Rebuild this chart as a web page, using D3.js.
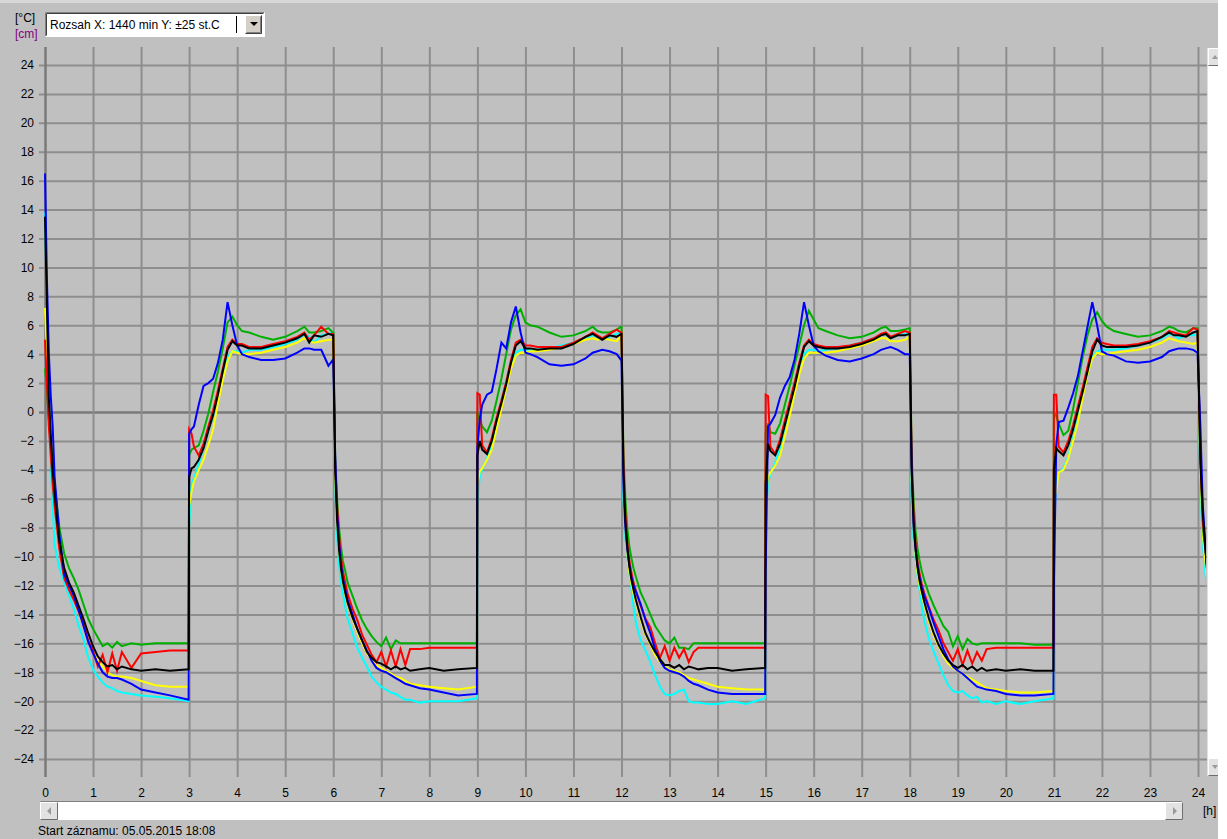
<!DOCTYPE html>
<html>
<head>
<meta charset="utf-8">
<script src="https://cdn.jsdelivr.net/npm/d3@7/dist/d3.min.js"></script>
<style>
  body { margin: 0; background: #fff; }
  svg text { font-family: "Liberation Sans", Arial, sans-serif; font-size: 12px; }
</style>
</head>
<body>
<svg id="chart" width="1227" height="839"></svg>
<script>
// time of each sample [h]
const hours = [
  0, 0.04, 0.08, 0.12, 0.16, 0.2, 0.25, 0.3, 0.4, 0.5, 0.6, 0.7, 0.8, 0.9, 1.0, 1.1, 1.2, 1.3, 1.4, 1.5, 1.6, 1.8, 2.0, 2.3, 2.6, 2.99,
  3.0, 3.05, 3.1, 3.2, 3.3, 3.4, 3.5, 3.6, 3.7, 3.8, 3.9, 4.0, 4.1, 4.25, 4.5, 4.75, 5.0, 5.25, 5.4, 5.5, 5.6, 5.75, 5.9, 5.99,
  6.0, 6.04, 6.08, 6.12, 6.16, 6.2, 6.25, 6.3, 6.4, 6.5, 6.6, 6.7, 6.8, 6.9, 7.0, 7.1, 7.2, 7.3, 7.4, 7.5, 7.6, 7.8, 8.0, 8.3, 8.6, 8.99,
  9.0, 9.05, 9.1, 9.2, 9.3, 9.4, 9.5, 9.6, 9.7, 9.8, 9.9, 10.0, 10.1, 10.25, 10.5, 10.75, 11.0, 11.25, 11.4, 11.5, 11.6, 11.75, 11.9, 11.99,
  12.0, 12.04, 12.08, 12.12, 12.16, 12.2, 12.25, 12.3, 12.4, 12.5, 12.6, 12.7, 12.8, 12.9, 13.0, 13.1, 13.2, 13.3, 13.4, 13.5, 13.6, 13.8, 14.0, 14.3, 14.6, 14.99,
  15.0, 15.05, 15.1, 15.2, 15.3, 15.4, 15.5, 15.6, 15.7, 15.8, 15.9, 16.0, 16.1, 16.25, 16.5, 16.75, 17.0, 17.25, 17.4, 17.5, 17.6, 17.75, 17.9, 17.99,
  18.0, 18.04, 18.08, 18.12, 18.16, 18.2, 18.25, 18.3, 18.4, 18.5, 18.6, 18.7, 18.8, 18.9, 19.0, 19.1, 19.2, 19.3, 19.4, 19.5, 19.6, 19.8, 20.0, 20.3, 20.6, 20.99,
  21.0, 21.05, 21.1, 21.2, 21.3, 21.4, 21.5, 21.6, 21.7, 21.8, 21.9, 22.0, 22.1, 22.25, 22.5, 22.75, 23.0, 23.25, 23.4, 23.5, 23.6, 23.75, 23.9, 23.99,
  24.05, 24.1, 24.2
]

// temperatures [°C]
const cyanVals = [
  13.8, 7.0, 1.0, -3.5, -6.5, -9.2, -10.0, -10.8, -11.8, -12.7, -13.6, -14.8, -15.7, -17.0, -17.8, -18.3, -18.7, -19.0, -19.1, -19.3, -19.4, -19.5, -19.6, -19.7, -19.8, -20.0,
  -8.0, -5.0, -4.6, -3.6, -2.5, -1.3, -0.3, 1.3, 2.8, 3.8, 4.2, 4.2, 4.1, 4.3, 4.3, 4.5, 4.7, 5.0, 5.4, 5.2, 4.8, 5.3, 5.4, 5.5,
  5.5, -5, -8.5, -10.5, -11.8, -12.5, -13.5, -14.3, -15.3, -16.3, -17.0, -17.6, -18.3, -18.7, -19.0, -19.2, -19.4, -19.5, -19.7, -19.9, -19.9, -20.1, -20.0, -20.0, -20.0, -19.8,
  -6.5, -4.4, -4.0, -3.2, -2.3, -0.8, 0.8, 2.2, 3.4, 4.1, 4.3, 4.3, 4.3, 4.3, 4.4, 4.6, 4.8, 5.1, 5.3, 5.2, 5.0, 5.2, 5.4, 5.5,
  5.5, -6, -8.6, -9.8, -11, -12, -13.5, -14.6, -15.8, -16.5, -17.3, -18.2, -19.0, -19.5, -19.6, -19.5, -19.3, -19.2, -20.0, -20.1, -20.1, -20.2, -20.2, -20.0, -20.2, -19.8,
  -7.5, -4.8, -4.3, -3.5, -2.5, -1.0, 0.5, 2.0, 3.2, 4.0, 4.3, 4.3, 4.2, 4.3, 4.4, 4.6, 4.8, 5.1, 5.3, 5.4, 5.1, 5.3, 5.4, 5.5,
  5.5, -6, -8.8, -10, -11.2, -12.2, -13.4, -14.4, -15.7, -16.6, -17.4, -18.2, -18.9, -19.3, -19.4, -19.3, -19.6, -19.8, -19.7, -20.1, -20.0, -20.2, -20.0, -20.2, -20.0, -19.8,
  -7.8, -4.8, -4.2, -3.9, -3.1, -1.8, -0.5, 1.2, 2.6, 3.8, 4.2, 4.3, 4.3, 4.3, 4.4, 4.6, 4.8, 5.1, 5.4, 5.3, 5.1, 5.3, 5.3, 5.4,
  -5.0, -9.0, -13.0
]
const yellowVals = [
  7.2, 4.0, 0.0, -2.5, -4.5, -6.0, -7.8, -9.2, -11.2, -12.0, -12.8, -13.8, -14.8, -15.8, -16.6, -17.2, -17.6, -18.0, -18.2, -18.3, -18.3, -18.4, -18.6, -18.9, -19.0, -19.0,
  -6.5, -5.5, -4.8, -4.0, -3.3, -2.3, -1.2, 0.6, 2.2, 3.5, 4.2, 4.1, 4.0, 4.0, 4.1, 4.3, 4.5, 4.8, 5.1, 4.9, 4.8, 4.9, 5.0, 5.0,
  5.0, -4.5, -7.5, -9.5, -10.8, -11.8, -12.6, -13.3, -14.3, -15.2, -16.0, -16.7, -17.1, -17.5, -17.7, -17.9, -18.1, -18.3, -18.4, -18.6, -18.8, -18.9, -19.0, -19.1, -19.2, -19.0,
  -5.0, -4.1, -3.9, -3.3, -2.6, -1.2, 0.2, 1.6, 3.0, 3.9, 4.1, 4.1, 4.2, 4.2, 4.3, 4.5, 4.7, 5.0, 5.1, 5.0, 5.1, 5.0, 4.9, 5.3,
  5.3, -4.5, -8, -9.7, -11, -11.8, -12.6, -13.2, -14.4, -15.4, -16.1, -16.8, -17.3, -17.6, -17.8, -17.9, -18.0, -18.2, -18.4, -18.5, -18.6, -18.8, -19.0, -19.1, -19.2, -19.2,
  -6.0, -4.5, -4.2, -3.7, -3.0, -1.7, -0.3, 1.2, 2.6, 3.7, 4.1, 4.1, 4.1, 4.1, 4.2, 4.4, 4.6, 4.9, 5.1, 5.1, 4.9, 4.9, 5.0, 5.2,
  5.2, -4.5, -8, -9.8, -11.1, -11.9, -12.7, -13.3, -14.5, -15.5, -16.2, -16.9, -17.4, -17.7, -17.9, -18.1, -18.3, -18.5, -18.7, -18.9, -19.1, -19.2, -19.3, -19.4, -19.4, -19.3,
  -6.0, -5.5, -4.2, -4.0, -3.2, -2.0, -0.7, 1.0, 2.6, 3.7, 4.1, 4.0, 4.0, 4.1, 4.2, 4.3, 4.5, 4.8, 5.1, 5.0, 4.9, 4.8, 4.7, 4.8,
  -4.0, -8.5, -12.0
]
const greenVals = [
  3.0, 1.5, -0.5, -2.0, -3.5, -5.0, -6.5, -8.0, -9.8, -10.8, -11.5, -12.3, -13.3, -14.3, -15.0, -15.6, -16.2, -16.0, -16.3, -15.9, -16.2, -16.0, -16.1, -16.0, -16.0, -16.0,
  -3.0, -2.6, -2.5, -2.3, -1.3, -0.1, 1.4, 2.8, 4.4, 6.2, 6.6, 6.0, 5.6, 5.5, 5.2, 5.0, 5.2, 5.6, 5.9, 5.5, 5.5, 5.6, 5.8, 5.5,
  5.5, -3, -6, -8, -9.3, -10.3, -11, -11.8, -12.7, -13.6, -14.4, -15.0, -15.5, -15.9, -16.2, -15.6, -16.4, -15.8, -16.0, -16.0, -16.0, -16.0, -16.0, -16.0, -16.0, -16.0,
  0.0, -0.5, -1.0, -1.4, -0.6, 0.8, 2.3, 4.0, 5.7, 6.7, 7.1, 6.2, 6.0, 5.9, 5.5, 5.2, 5.3, 5.6, 5.9, 5.6, 5.5, 5.5, 5.7, 5.9,
  5.9, -3, -6, -8, -9.2, -10, -10.8, -11.4, -12.5, -13.2, -14.0, -14.8, -15.3, -15.8, -16.0, -15.6, -16.3, -16.3, -16.4, -16.0, -16.0, -16.0, -16.0, -16.0, -16.0, -16.0,
  -1.5, -0.8, -1.4, -1.5, -0.8, 0.5, 1.8, 3.2, 4.6, 6.0, 7.0, 6.4, 5.8, 5.6, 5.3, 5.1, 5.2, 5.5, 5.8, 5.9, 5.6, 5.6, 5.7, 5.8,
  5.8, -3, -6.2, -8.2, -9.4, -10.2, -11.0, -11.6, -12.6, -13.4, -14.1, -14.8, -15.2, -16.2, -15.5, -16.4, -15.7, -16.0, -16.1, -16.0, -16.0, -16.0, -16.0, -16.0, -16.1, -16.1,
  0.0, -0.3, -0.8, -1.6, -1.3, 0.2, 2.0, 3.8, 5.3, 6.4, 6.9, 6.3, 5.9, 5.6, 5.4, 5.2, 5.3, 5.6, 5.9, 5.8, 5.6, 5.5, 5.8, 5.8,
  -3.0, -8.0, -11.0
]
const redVals = [
  5.0, 2.0, -1.0, -3.0, -5.0, -6.5, -8.0, -9.5, -11.5, -12.3, -13.0, -13.8, -14.6, -15.8, -16.5, -17.6, -16.8, -18.0, -16.7, -17.9, -16.6, -17.7, -16.7, -16.6, -16.5, -16.5,
  -1.2, -1.5, -2.4, -3.0, -2.2, -1.0, 0.1, 1.5, 3.0, 4.5, 5.0, 4.7, 4.7, 4.5, 4.5, 4.7, 4.9, 5.2, 5.5, 5.0, 5.3, 5.9, 5.4, 5.4,
  5.4, -3.5, -6.5, -8.5, -10, -11, -11.8, -12.6, -13.6, -14.4, -15.4, -16.1, -16.8, -17.3, -16.6, -17.6, -16.5, -17.6, -16.4, -17.5, -16.4, -16.4, -16.3, -16.3, -16.3, -16.3,
  1.3, 1.2, -2.3, -2.8, -1.8, -0.4, 0.8, 2.1, 3.6, 4.8, 5.0, 4.6, 4.6, 4.5, 4.5, 4.5, 4.8, 5.2, 5.5, 5.3, 5.1, 5.4, 5.7, 5.5,
  5.5, -3.5, -7, -9, -10.2, -11, -11.8, -12.4, -13.4, -14.3, -14.9, -16.0, -17.0, -16.2, -17.2, -16.3, -17.0, -16.4, -17.3, -16.6, -16.3, -16.3, -16.3, -16.3, -16.3, -16.3,
  1.2, 1.1, -2.4, -2.9, -1.9, -0.6, 0.7, 2.0, 3.4, 4.6, 5.0, 4.7, 4.6, 4.5, 4.5, 4.6, 4.8, 5.1, 5.4, 5.5, 5.2, 5.4, 5.6, 5.5,
  5.5, -3.5, -7, -9, -10.3, -11.1, -11.9, -12.5, -13.5, -14.4, -15.1, -16.0, -16.6, -17.2, -16.4, -17.5, -16.5, -17.4, -16.6, -17.2, -16.4, -16.3, -16.3, -16.3, -16.3, -16.3,
  1.2, 1.2, -2.4, -2.8, -2.0, -0.9, 0.4, 1.7, 3.1, 4.5, 5.1, 4.8, 4.7, 4.6, 4.6, 4.7, 4.9, 5.2, 5.6, 5.5, 5.4, 5.3, 5.8, 5.7,
  -3.0, -7.5, -11.0
]
const blueVals = [
  16.5, 9.2, 4.1, 1.1, -1.0, -4.5, -6.5, -8.5, -11.2, -12.0, -12.7, -13.7, -14.8, -15.9, -16.7, -17.4, -18.0, -18.3, -18.4, -18.4, -18.5, -18.8, -19.2, -19.4, -19.6, -19.9,
  -1.5, -1.2, -1.0, 0.5, 1.8, 2.0, 2.3, 3.4, 5.0, 7.6, 6.0, 4.6, 4.0, 3.8, 3.6, 3.6, 3.7, 4.1, 4.4, 4.4, 4.3, 4.3, 3.2, 3.6,
  3.6, -3, -7, -9, -10.5, -11.5, -12.3, -13, -14, -15, -15.8, -16.5, -17.2, -17.7, -17.9, -18.0, -18.2, -18.4, -18.6, -18.8, -18.9, -19.1, -19.2, -19.4, -19.6, -19.5,
  -2.5, -0.5, 0.5, 1.2, 1.4, 3.0, 4.8, 4.4, 6.2, 7.3, 5.5, 4.1, 4.0, 3.8, 3.3, 3.2, 3.3, 3.7, 4.1, 4.2, 4.3, 4.2, 4.0, 3.6,
  3.6, -5, -8, -9.5, -10.5, -11.3, -12.0, -12.4, -13.3, -14.4, -15.3, -16.4, -17.2, -17.7, -17.9, -18.0, -18.1, -18.3, -18.6, -18.8, -18.9, -19.2, -19.4, -19.5, -19.5, -19.5,
  -11, -1.0, -0.8, -0.2, 1.0, 1.8, 2.4, 3.6, 5.4, 7.6, 6.0, 4.6, 4.2, 3.9, 3.6, 3.5, 3.7, 4.0, 4.3, 4.4, 4.5, 4.3, 4.0, 4.0,
  4.0, -4, -8, -9.5, -10.6, -11.4, -12.1, -12.7, -13.6, -14.6, -15.5, -16.4, -17.1, -17.6, -17.9, -18.1, -18.4, -18.7, -19.0, -19.1, -19.2, -19.3, -19.5, -19.6, -19.6, -19.5,
  -12, -2.3, -0.7, -0.6, 0.3, 1.3, 2.5, 4.2, 5.9, 7.6, 6.0, 4.2, 4.0, 3.9, 3.5, 3.4, 3.5, 3.8, 4.2, 4.3, 4.4, 4.4, 4.3, 4.1,
  -1.0, -6.5, -11.5
]
const blackVals = [
  13.5, 7.3, 1.0, -1.5, -4.0, -5.5, -7.5, -9.0, -10.8, -11.8, -12.5, -13.4, -14.3, -15.3, -16.2, -16.9, -17.3, -17.6, -17.5, -17.8, -17.6, -17.8, -17.9, -17.8, -17.9, -17.8,
  -4.5, -3.9, -3.8, -3.3, -2.5, -1.3, -0.2, 1.2, 2.8, 4.3, 4.9, 4.6, 4.6, 4.4, 4.4, 4.6, 4.8, 5.1, 5.4, 4.8, 5.3, 5.2, 5.4, 5.3,
  5.3, -4, -7.5, -9.5, -10.8, -11.7, -12.5, -13.2, -14.2, -15.0, -15.8, -16.6, -17.0, -17.3, -17.4, -17.6, -17.8, -17.6, -17.8, -17.7, -17.9, -17.8, -17.7, -17.9, -17.8, -17.7,
  -3.0, -2.0, -2.6, -2.9, -2.0, -0.6, 0.6, 1.9, 3.4, 4.6, 4.9, 4.4, 4.4, 4.3, 4.4, 4.4, 4.7, 5.2, 5.4, 5.2, 5.0, 5.3, 5.2, 5.4,
  5.4, -4, -7.5, -9.3, -10.6, -11.5, -12.3, -13.0, -14.2, -15.3, -16.0, -16.6, -17.1, -17.5, -17.5, -17.7, -17.5, -17.8, -17.6, -17.7, -17.8, -17.7, -17.7, -17.9, -17.8, -17.7,
  -5.0, -2.2, -2.7, -3.0, -2.2, -0.9, 0.4, 1.7, 3.2, 4.5, 4.9, 4.6, 4.5, 4.4, 4.4, 4.5, 4.7, 5.0, 5.3, 5.4, 5.1, 5.3, 5.3, 5.4,
  5.4, -4, -7.6, -9.4, -10.7, -11.6, -12.4, -13.1, -14.3, -15.3, -16.1, -16.7, -17.2, -17.5, -17.7, -17.5, -17.8, -17.6, -17.9, -17.7, -17.9, -17.8, -17.9, -17.8, -17.9, -17.9,
  -4.0, -2.5, -2.7, -3.0, -2.3, -1.2, 0.1, 1.4, 2.8, 4.2, 5.0, 4.6, 4.5, 4.5, 4.5, 4.6, 4.8, 5.2, 5.5, 5.3, 5.3, 5.2, 5.5, 5.6,
  -3.5, -7.0, -11.5
]

const xTicks = [0, 1, 2, 3, 4, 5, 6, 7, 8, 9, 10, 11, 12, 13, 14, 15, 16, 17, 18, 19, 20, 21, 22, 23, 24]
const yTicks = [-24, -22, -20, -18, -16, -14, -12, -10, -8, -6, -4, -2, 0, 2, 4, 6, 8, 10, 12, 14, 16, 18, 20, 22, 24]

const series = [
  { name: 'cyan', color: '#00ffff', values: cyanVals },
  { name: 'yellow', color: '#ffff00', values: yellowVals },
  { name: 'green', color: '#00b000', values: greenVals },
  { name: 'red', color: '#ff0000', values: redVals },
  { name: 'blue', color: '#0000ff', values: blueVals },
  { name: 'black', color: '#000000', values: blackVals }
]

const svg = d3.select('#chart')
const plotLeft = 45, plotRight = 1207, plotTop = 47, plotBottom = 777

const x = d3.scaleLinear().domain([0, 24]).range([45, 1198])
const y = d3.scaleLinear().domain([-24, 24]).range([759, 65])

// window background
svg.append('rect').attr('width', 1218).attr('height', 839).attr('fill', '#c0c0c0')
svg.append('rect').attr('width', 1218).attr('height', 3).attr('fill', '#d8d8d8')

// units
svg.append('text').attr('x', 15).attr('y', 22).attr('fill', '#000').text('[°C]')
svg.append('text').attr('x', 15).attr('y', 38).attr('fill', '#800080').text('[cm]')

// range combo box
const combo = svg.append('g')
combo.append('rect').attr('x', 45).attr('y', 12).attr('width', 220).attr('height', 25).attr('fill', '#fff')
combo.append('path').attr('d', 'M45.5,36.5V12.5H264.5').attr('fill', 'none').attr('stroke', '#808080')
combo.append('path').attr('d', 'M46.5,35.5V13.5H263.5').attr('fill', 'none').attr('stroke', '#404040')
combo.append('path').attr('d', 'M45.5,36.5H264.5V12.5').attr('fill', 'none').attr('stroke', '#ffffff')
combo.append('text').attr('x', 50).attr('y', 29).text('Rozsah X: 1440 min  Y: ±25 st.C')
combo.append('line').attr('x1', 236.5).attr('x2', 236.5).attr('y1', 16).attr('y2', 33).attr('stroke', '#000')
combo.append('rect').attr('x', 245).attr('y', 15).attr('width', 17).attr('height', 19).attr('fill', '#d4d0c8')
combo.append('path').attr('d', 'M245.5,33.5V15.5H261.5').attr('fill', 'none').attr('stroke', '#fff')
combo.append('path').attr('d', 'M245.5,33.5H261.5V15.5').attr('fill', 'none').attr('stroke', '#404040')
combo.append('path').attr('d', 'M246.5,32.5H260.5V16.5').attr('fill', 'none').attr('stroke', '#808080')
combo.append('path').attr('d', 'M250,22H258L254,26Z').attr('fill', '#000')

// grid + axes
const yAxis = svg.append('g')
  .attr('transform', 'translate(39,0)')
  .call(d3.axisLeft(y).tickValues(yTicks).tickSizeInner(-(plotRight - 39)).tickSizeOuter(0).tickPadding(5))
yAxis.select('.domain').remove()
yAxis.selectAll('.tick line')
  .attr('stroke', d => d === 0 ? '#7a7a7a' : '#8e8e8e')
  .attr('stroke-width', d => d === 0 ? 2.5 : 2)
yAxis.selectAll('.tick text').attr('font-size', 12).attr('font-family', '"Liberation Sans", Arial, sans-serif').attr('fill', '#000')

const xAxis = svg.append('g')
  .attr('transform', `translate(0,${plotBottom})`)
  .call(d3.axisBottom(x).tickValues(xTicks).tickSizeInner(-(plotBottom - plotTop)).tickSizeOuter(0).tickPadding(11))
xAxis.select('.domain').remove()
xAxis.selectAll('.tick line')
  .attr('stroke', d => d === 0 ? '#7a7a7a' : '#8e8e8e')
  .attr('stroke-width', d => d === 0 ? 2.5 : 2)
xAxis.selectAll('.tick text').attr('font-size', 12).attr('font-family', '"Liberation Sans", Arial, sans-serif').attr('fill', '#000')

// curves
svg.append('clipPath').attr('id', 'plotClip')
  .append('rect').attr('x', plotLeft - 1).attr('y', plotTop).attr('width', plotRight - plotLeft).attr('height', plotBottom - plotTop)

const line = d3.line()
  .x((d, i) => x(hours[i]))
  .y(d => y(d))

const curves = svg.append('g').attr('clip-path', 'url(#plotClip)')
series.forEach(s => {
  if (s.values.length !== hours.length) console.error(s.name, s.values.length, hours.length)
  curves.append('path')
    .datum(s.values)
    .attr('d', line)
    .attr('fill', 'none')
    .attr('stroke', s.color)
    .attr('stroke-width', 2)
    .attr('stroke-linejoin', 'miter')
})

// vertical scroll bar (cut off at the right)
const vbar = svg.append('g')
vbar.append('rect').attr('x', 1207).attr('y', 48).attr('width', 11).attr('height', 728).attr('fill', '#fff')
vbar.append('line').attr('x1', 1207.5).attr('x2', 1207.5).attr('y1', 48).attr('y2', 776).attr('stroke', '#e0e0e0')
function button (g, bx, by, bw, bh) {
  g.append('rect').attr('x', bx).attr('y', by).attr('width', bw).attr('height', bh).attr('fill', '#e2e2e2')
  g.append('path').attr('d', `M${bx + 0.5},${by + bh - 0.5}V${by + 0.5}H${bx + bw - 0.5}`).attr('fill', 'none').attr('stroke', '#ffffff')
  g.append('path').attr('d', `M${bx + 0.5},${by + bh - 0.5}H${bx + bw - 0.5}V${by + 0.5}`).attr('fill', 'none').attr('stroke', '#6e6e6e')
}
button(vbar, 1208, 48, 12, 18)
vbar.append('path').attr('d', 'M1212,59L1215,55L1218,59Z').attr('fill', '#9a9a9a')
button(vbar, 1208, 758, 12, 18)
vbar.append('path').attr('d', 'M1212,765L1218,765L1215,769Z').attr('fill', '#9a9a9a')

// horizontal scroll bar
const hbar = svg.append('g')
hbar.append('rect').attr('x', 40).attr('y', 801).attr('width', 1143).attr('height', 19).attr('fill', '#fff')
hbar.append('path').attr('d', 'M40.5,819.5V801.5H1182.5').attr('fill', 'none').attr('stroke', '#808080')
button(hbar, 40, 802, 18, 18)
hbar.append('path').attr('d', 'M47,811L51,807V815Z').attr('fill', '#9a9a9a')
button(hbar, 1165, 802, 18, 18)
hbar.append('path').attr('d', 'M1177,811L1173,807V815Z').attr('fill', '#9a9a9a')

svg.append('text').attr('x', 1203).attr('y', 815).text('[h]')
svg.append('text').attr('x', 38).attr('y', 835).text('Start záznamu: 05.05.2015 18:08')

// white strip at the right edge of the screenshot
svg.append('rect').attr('x', 1218).attr('y', 0).attr('width', 9).attr('height', 839).attr('fill', '#fff')
</script>
</body>
</html>
